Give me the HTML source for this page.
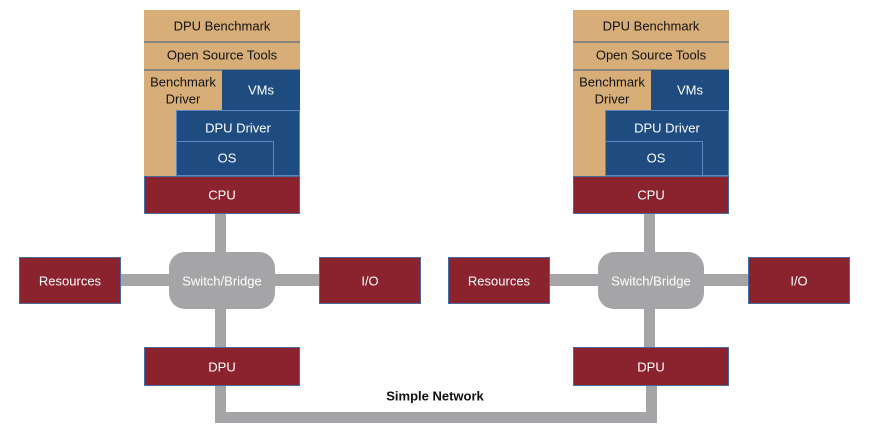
<!DOCTYPE html>
<html><head><style>
html,body{margin:0;padding:0;background:#fff;width:875px;height:432px;overflow:hidden}
svg text{font-family:"Liberation Sans",Arial,sans-serif;font-size:13px;text-anchor:middle;dominant-baseline:central}
</style></head><body>
<svg width="875" height="432" viewBox="0 0 875 432" xmlns="http://www.w3.org/2000/svg">
<defs>
<g id="node">
  <!-- connectors -->
  <rect x="215" y="210" width="11" height="140" fill="#a5a5a7"/>
  <rect x="118" y="274" width="205" height="12" fill="#a5a5a7"/>
  <!-- stack -->
  <rect x="144" y="10" width="156" height="166" fill="#d8ae78"/>
  <line x1="144" y1="42" x2="300" y2="42" stroke="#3c5a85" stroke-width="1"/>
  <line x1="144" y1="70" x2="300" y2="70" stroke="#3c5a85" stroke-width="1"/>
  <text x="222" y="26" fill="#111">DPU Benchmark</text>
  <text x="222" y="55" fill="#111">Open Source Tools</text>
  <text x="183" y="82" fill="#111">Benchmark</text>
  <text x="183" y="99" fill="#111">Driver</text>
  <rect x="222" y="70" width="78" height="40" fill="#1f4c80"/>
  <text x="261" y="90" fill="#fff">VMs</text>
  <rect x="176.5" y="110.5" width="123" height="65" fill="#1f4c80" stroke="#5b86c0" stroke-width="1"/>
  <rect x="176.5" y="141.5" width="97" height="34" fill="#1f4c80" stroke="#5b86c0" stroke-width="1"/>
  <text x="238" y="128" fill="#fff">DPU Driver</text>
  <text x="227" y="158" fill="#fff">OS</text>
  <rect x="144.5" y="176.5" width="155" height="37" fill="#8b232e" stroke="#4a6aa0" stroke-width="1"/>
  <text x="222" y="195" fill="#fff">CPU</text>
  <!-- switch -->
  <rect x="169" y="252" width="106" height="57" rx="16" fill="#a5a5a7"/>
  <text x="222" y="281" fill="#fff">Switch/Bridge</text>
  <rect x="19.5" y="257.5" width="101" height="46" fill="#8b232e" stroke="#4a6aa0" stroke-width="1"/>
  <text x="70" y="281" fill="#fff">Resources</text>
  <rect x="319.5" y="257.5" width="101" height="46" fill="#8b232e" stroke="#4a6aa0" stroke-width="1"/>
  <text x="370" y="281" fill="#fff">I/O</text>
  <rect x="144.5" y="347.5" width="155" height="38" fill="#8b232e" stroke="#4a6aa0" stroke-width="1"/>
  <text x="222" y="367" fill="#fff">DPU</text>
</g>
</defs>
<rect x="215" y="386" width="11" height="37" fill="#a5a5a7"/>
<rect x="646" y="386" width="11" height="37" fill="#a5a5a7"/>
<rect x="215" y="412" width="442" height="11" fill="#a5a5a7"/>
<use href="#node"/>
<use href="#node" transform="translate(429,0)"/>
<text x="435" y="396" fill="#111" font-weight="bold">Simple Network</text>
</svg>
</body></html>
